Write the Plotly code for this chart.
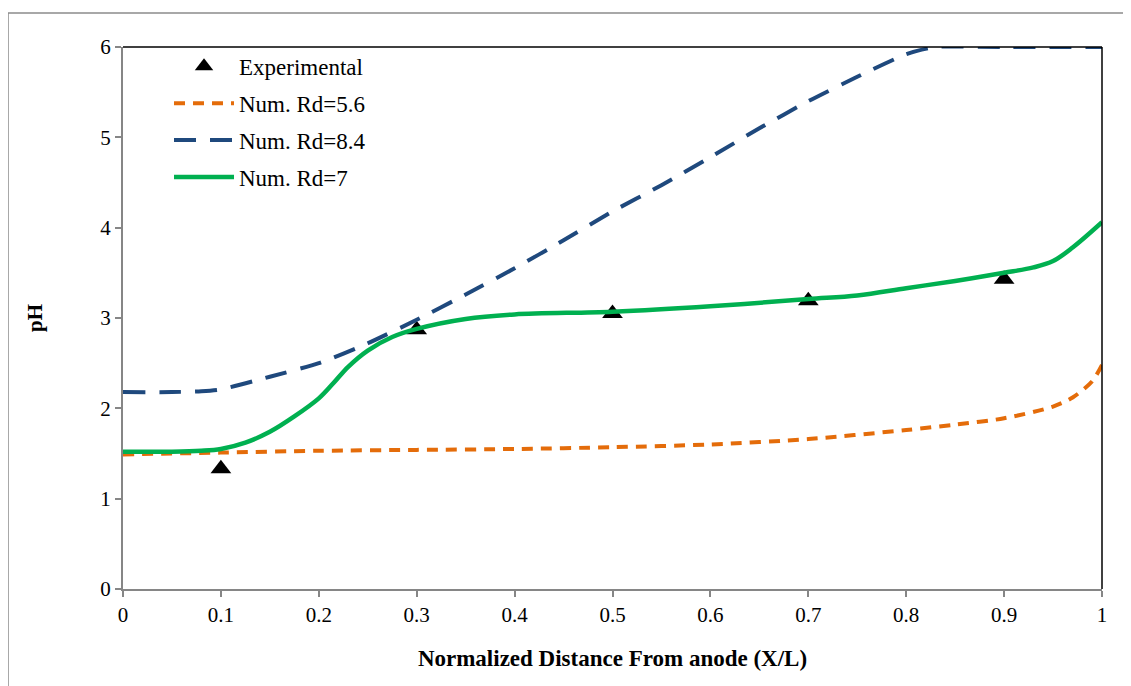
import plotly.graph_objects as go

# Experimental data
exp_x = [0.1, 0.3, 0.5, 0.7, 0.9]
exp_ph = [1.33, 2.87, 3.05, 3.19, 3.43]

# Num. Rd=5.6
rd56_x = [0.0, 0.1, 0.2, 0.3, 0.4, 0.5, 0.6, 0.7, 0.8, 0.85, 0.9, 0.95, 0.97, 0.99, 1.0]
rd56_ph = [1.49, 1.51, 1.53, 1.54, 1.55, 1.57, 1.60, 1.66, 1.76, 1.82, 1.89, 2.02, 2.12, 2.30, 2.48]

# Num. Rd=8.4
rd84_x = [0.0, 0.05, 0.08, 0.1, 0.15, 0.2, 0.25, 0.3, 0.35, 0.4, 0.45, 0.5, 0.55, 0.6, 0.65, 0.7, 0.75, 0.8, 0.83, 0.9, 1.0]
rd84_ph = [2.18, 2.18, 2.19, 2.21, 2.35, 2.50, 2.72, 2.98, 3.26, 3.55, 3.86, 4.18, 4.47, 4.78, 5.10, 5.40, 5.67, 5.92, 6.0, 6.0, 6.0]

# Num. Rd=7
rd7_x = [0.0, 0.05, 0.08, 0.1, 0.125, 0.15, 0.175, 0.2, 0.215, 0.23, 0.25, 0.275, 0.3, 0.35, 0.4, 0.5, 0.6, 0.7, 0.75, 0.8, 0.85, 0.9, 0.93, 0.95, 0.97, 1.0]
rd7_ph = [1.52, 1.52, 1.53, 1.55, 1.62, 1.74, 1.91, 2.11, 2.28, 2.46, 2.64, 2.79, 2.88, 2.99, 3.04, 3.07, 3.13, 3.21, 3.25, 3.33, 3.41, 3.50, 3.56, 3.63, 3.78, 4.06]

x_ticks = [0, 0.1, 0.2, 0.3, 0.4, 0.5, 0.6, 0.7, 0.8, 0.9, 1]
x_tick_labels = ["0", "0.1", "0.2", "0.3", "0.4", "0.5", "0.6", "0.7", "0.8", "0.9", "1"]
y_ticks = [0, 1, 2, 3, 4, 5, 6]

FONT = "Liberation Serif"

fig = go.Figure()
fig.add_trace(go.Scatter(x=exp_x, y=exp_ph, mode="markers", name="Experimental",
                         legendgroup="a",
                         marker=dict(symbol="triangle-up", size=18, color="black")))
fig.add_trace(go.Scatter(x=rd56_x, y=rd56_ph, mode="lines", name="Num. Rd=5.6",
                         legendgroup="b",
                         line=dict(color="#E46C0A", width=4, dash="11px,8px", shape="spline", smoothing=0.8)))
fig.add_trace(go.Scatter(x=rd84_x, y=rd84_ph, mode="lines", name="Num. Rd=8.4",
                         legendgroup="c",
                         line=dict(color="#1F497D", width=4, dash="22px,14px", shape="spline", smoothing=0.6)))
fig.add_trace(go.Scatter(x=rd7_x, y=rd7_ph, mode="lines", name="Num. Rd=7",
                         legendgroup="d",
                         line=dict(color="#00B050", width=4.5, shape="spline", smoothing=1.0)))

fig.update_layout(
    width=1123, height=678,
    margin=dict(l=115, r=29, t=39, b=97),
    paper_bgcolor="white", plot_bgcolor="white",
    font=dict(family=FONT, size=21, color="black"),
    showlegend=True,
    legend=dict(x=0.047, y=1.004, xanchor="left", yanchor="top",
                bgcolor="rgba(0,0,0,0)", font=dict(size=23, family=FONT),
                tracegroupgap=4, traceorder="grouped", itemwidth=60),
    xaxis=dict(range=[0, 1], tickvals=x_ticks, ticktext=x_tick_labels,
               showgrid=False, zeroline=False, showline=True, linecolor="#868686", linewidth=2,
               ticks="outside", ticklen=6, tickcolor="#868686", tickwidth=1.5,
               tickfont=dict(size=21, family=FONT, color="black"),
               title=dict(text="<b>Normalized Distance From anode (X/L)</b>",
                          font=dict(size=23, family=FONT), standoff=24)),
    yaxis=dict(range=[0, 6], tickvals=y_ticks,
               showgrid=False, zeroline=False, showline=True, linecolor="#868686", linewidth=2,
               ticks="outside", ticklen=6, tickcolor="#868686", tickwidth=1.5,
               tickfont=dict(size=21, family=FONT, color="black"),
               title=dict(text="<b>pH</b>", font=dict(size=21, family=FONT), standoff=52)),
)

# black top and right plot-area border
fig.add_shape(type="line", xref="paper", yref="paper", x0=0, x1=1, y0=1, y1=1,
              line=dict(color="black", width=1.5))
fig.add_shape(type="line", xref="paper", yref="paper", x0=1, x1=1, y0=0, y1=1,
              line=dict(color="black", width=1.5))
# outer chart frame (gray)
fig.add_shape(type="rect", xref="paper", yref="paper",
              x0=(8 - 123) / 979, x1=(1140 - 123) / 979,
              y0=(589 - 700) / 542, y1=(589 - 13) / 542,
              line=dict(color="#8C8C8C", width=1.5), layer="below")

fig.write_html("out.html")
